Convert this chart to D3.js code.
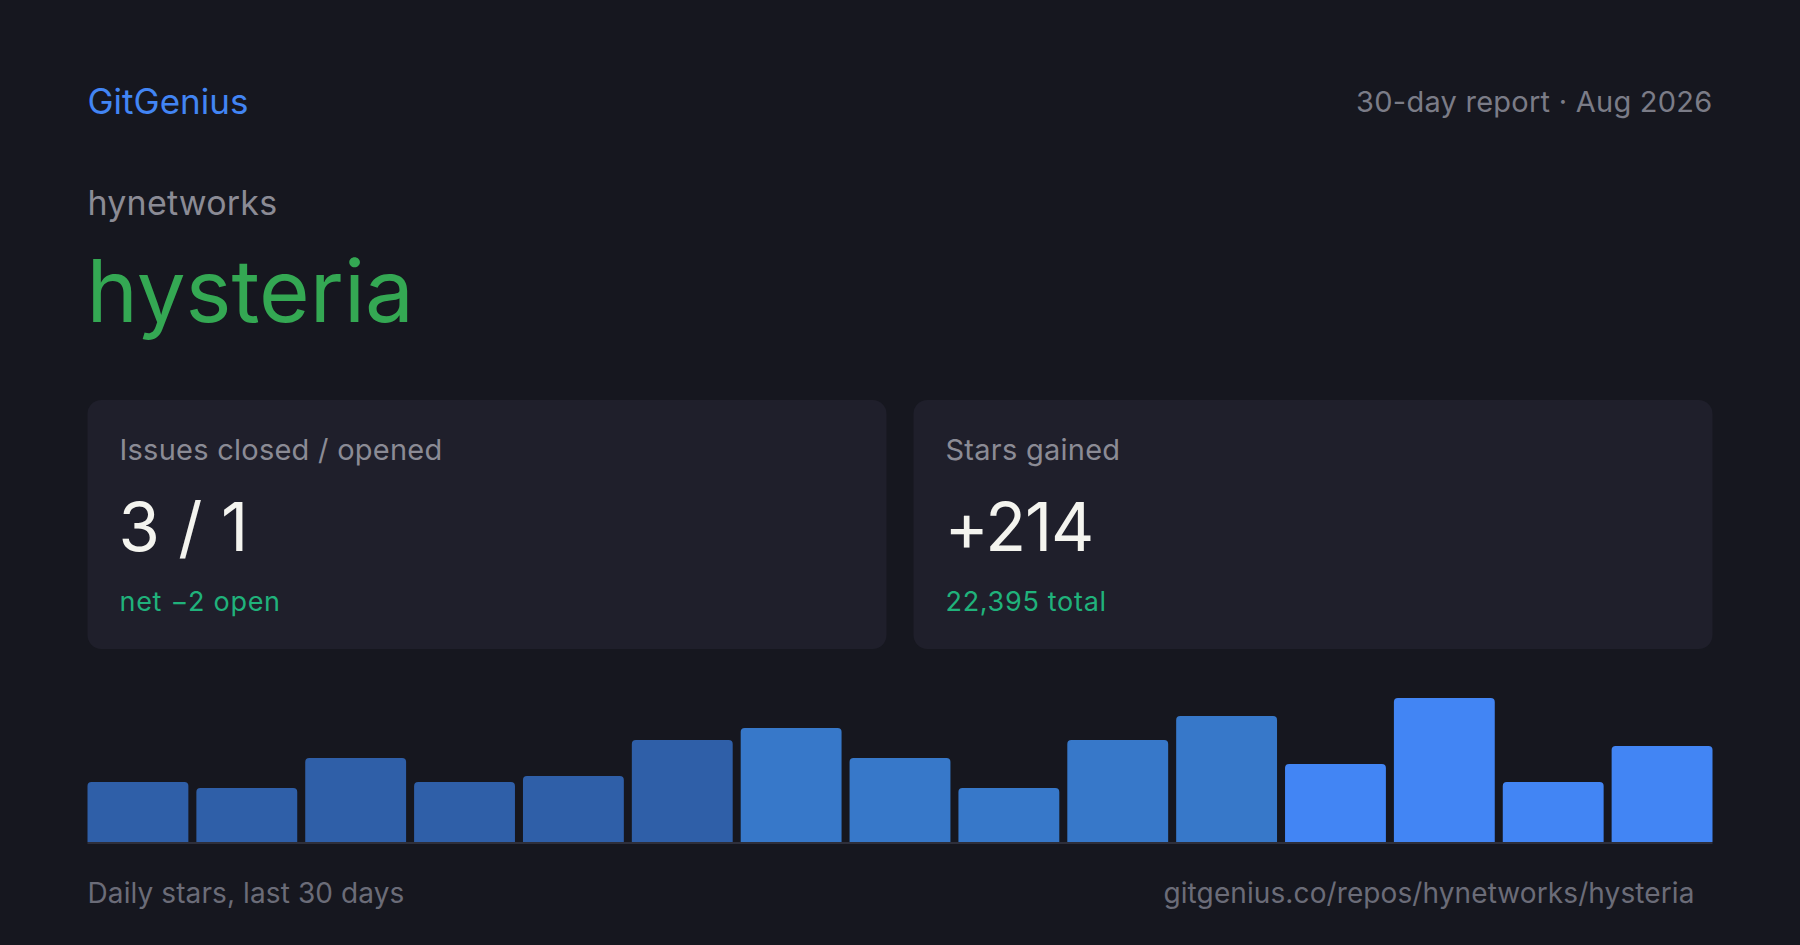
<!DOCTYPE html>
<html>
<head>
<meta charset="utf-8">
<script src="https://cdn.jsdelivr.net/npm/d3@7"></script>
<style>
  html, body { margin: 0; padding: 0; background: #16171f; }
  svg { display: block; font-family: Inter, "Noto Sans", sans-serif; }
</style>
</head>
<body>
<svg id="card" width="1800" height="945"></svg>
<script>
// Daily stars, one bar per two-day bucket
const dailyStars = [10, 9, 14, 10, 11, 17, 19, 14, 9, 17, 21, 13, 24, 10, 16];
// which ten-day period each bucket belongs to
const periods = [0, 0, 0, 0, 0, 0, 1, 1, 1, 1, 1, 2, 2, 2, 2];

const brand = 'GitGenius';
const reportLabel = '30-day report · Aug 2026';
const owner = 'hynetworks';
const repo = 'hysteria';

const stats = [
  { label: 'Issues closed / opened', value: '3 / 1', sub: 'net −2 open' },
  { label: 'Stars gained', value: '+214', sub: '22,395 total' }
];

const footerLeft = 'Daily stars, last 30 days';
const footerRight = 'gitgenius.co/repos/hynetworks/hysteria';

const W = 1800, H = 945;
const margin = { left: 87.5, right: 87.5 };
const innerW = W - margin.left - margin.right;

const svg = d3.select('#card');

svg.append('rect')
  .attr('width', W).attr('height', H)
  .attr('fill', '#16171f');

// Header
svg.append('text')
  .attr('x', margin.left).attr('y', 114)
  .attr('font-size', 35)
  .attr('fill', '#4285f4')
  .text(brand);

svg.append('text')
  .attr('x', W - margin.right).attr('y', 112)
  .attr('text-anchor', 'end')
  .attr('font-size', 29)
  .attr('letter-spacing', 0.25)
  .attr('fill', '#7b7c87')
  .text(reportLabel);

svg.append('text')
  .attr('x', margin.left).attr('y', 215)
  .attr('font-size', 34)
  .attr('letter-spacing', 0.2)
  .attr('fill', '#8b8b95')
  .text(owner);

svg.append('text')
  .attr('x', margin.left - 1).attr('y', 322)
  .attr('font-size', 87)
  .attr('fill', '#34a853')
  .text(repo);

// Stat cards
const cardGap = 27;
const cardW = (innerW - cardGap) / 2;
const cardTop = 400, cardH = 249;

const cards = svg.selectAll('.stat-card')
  .data(stats)
  .enter()
  .append('g')
  .attr('class', 'stat-card')
  .attr('transform', (d, i) => `translate(${margin.left + i * (cardW + cardGap)},${cardTop})`);

cards.append('rect')
  .attr('width', cardW).attr('height', cardH)
  .attr('rx', 14)
  .attr('fill', '#1f1f2b');

cards.append('text')
  .attr('x', 32).attr('y', 60)
  .attr('font-size', 29)
  .attr('letter-spacing', 0.25)
  .attr('fill', '#8b8b95')
  .text(d => d.label);

cards.append('text')
  .attr('x', 31).attr('y', 151)
  .attr('font-size', 67)
  .attr('letter-spacing', -1.2)
  .attr('word-spacing', 2)
  .attr('fill', '#f4f4ef')
  .text(d => d.value);

cards.append('text')
  .attr('x', 32).attr('y', 211)
  .attr('font-size', 27)
  .attr('letter-spacing', 0.7)
  .attr('fill', '#20b27b')
  .text(d => d.sub);

// Bar chart
const chartTop = 698, chartBottom = 842;
const barGap = 8;
const n = dailyStars.length;
const pad = (barGap * n) / (innerW + barGap);

const x = d3.scaleBand()
  .domain(d3.range(n))
  .range([margin.left, W - margin.right])
  .paddingInner(pad)
  .paddingOuter(0);

const y = d3.scaleLinear()
  .domain([0, d3.max(dailyStars)])
  .range([chartBottom, chartTop]);

const color = d3.scaleOrdinal()
  .domain([0, 1, 2])
  .range(['#2f5fa8', '#3778c9', '#4285f4']);

const r = 4;
function topRounded(x0, y0, w, h) {
  const rr = Math.min(r, h);
  return `M${x0},${y0 + h}V${y0 + rr}Q${x0},${y0} ${x0 + rr},${y0}` +
    `H${x0 + w - rr}Q${x0 + w},${y0} ${x0 + w},${y0 + rr}V${y0 + h}Z`;
}

svg.append('g')
  .attr('class', 'bars')
  .selectAll('path')
  .data(dailyStars)
  .enter()
  .append('path')
  .attr('d', (d, i) => topRounded(x(i), y(d), x.bandwidth(), chartBottom - y(d)))
  .attr('fill', (d, i) => color(periods[i]));

svg.append('rect')
  .attr('x', margin.left).attr('y', chartBottom)
  .attr('width', innerW).attr('height', 2)
  .attr('fill', '#2e2f3b');

// Footer
svg.append('text')
  .attr('x', margin.left).attr('y', 903)
  .attr('font-size', 28)
  .attr('letter-spacing', 0.1)
  .attr('fill', '#6b6c78')
  .text(footerLeft);

svg.append('text')
  .attr('x', 1694.5).attr('y', 903)
  .attr('text-anchor', 'end')
  .attr('font-size', 28)
  .attr('letter-spacing', 0.1)
  .attr('fill', '#6b6c78')
  .text(footerRight);
</script>
</body>
</html>
